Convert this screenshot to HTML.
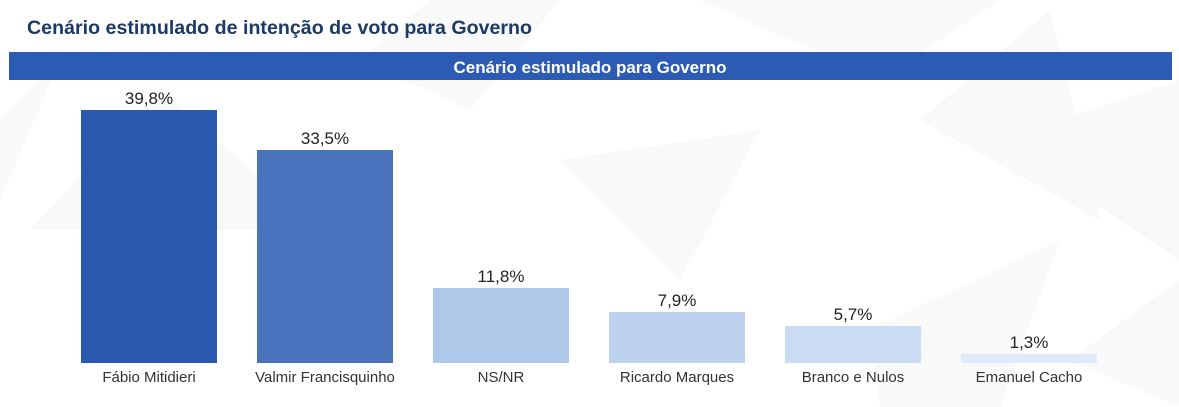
<!DOCTYPE html>
<html><head><meta charset="utf-8"><style>
body{margin:0;width:1179px;height:407px;overflow:hidden;background:#fff;font-family:"Liberation Sans",sans-serif;}
</style></head><body>
<svg width="1179" height="407" xmlns="http://www.w3.org/2000/svg" style="position:absolute;left:0;top:0">
<g fill="#f9f9f9">
<polygon points="0,120 60,60 0,200"/>
<polygon points="160,90 320,230 30,230"/>
<polygon points="360,60 430,0 560,0 470,110"/>
<polygon points="560,160 760,130 680,280"/>
<polygon points="700,0 1000,0 880,80"/>
<polygon points="920,120 1050,10 1100,220"/>
<polygon points="1000,140 1179,80 1179,260"/>
<polygon points="1070,360 1179,280 1179,407"/>
<polygon points="870,330 1060,240 1000,407 880,407"/>
</g>
<text x="27" y="34" font-size="19.6" font-weight="bold" fill="#1b3a66" textLength="505">Cenário estimulado de intenção de voto para Governo</text>
<rect x="9" y="52" width="1163" height="28" fill="#2c5bb3"/>
<text x="590" y="73" font-size="17" font-weight="bold" fill="#fff" text-anchor="middle">Cenário estimulado para Governo</text>
<g font-size="17" fill="#222" text-anchor="middle">
<rect x="81" y="110" width="136" height="253" fill="#2a59b0"/><text x="149" y="104">39,8%</text>
<rect x="257" y="150" width="136" height="213" fill="#4a73be"/><text x="325" y="144">33,5%</text>
<rect x="433" y="288" width="136" height="75" fill="#aec8ea"/><text x="501" y="282">11,8%</text>
<rect x="609" y="312" width="136" height="51" fill="#bcd2ee"/><text x="677" y="306">7,9%</text>
<rect x="785" y="326" width="136" height="37" fill="#c9dcf4"/><text x="853" y="320">5,7%</text>
<rect x="961" y="354" width="136" height="9" fill="#dfebfa"/><text x="1029" y="348">1,3%</text>
</g>
<g font-size="15" fill="#333" text-anchor="middle">
<text x="149" y="382">Fábio Mitidieri</text>
<text x="325" y="382">Valmir Francisquinho</text>
<text x="501" y="382">NS/NR</text>
<text x="677" y="382">Ricardo Marques</text>
<text x="853" y="382">Branco e Nulos</text>
<text x="1029" y="382">Emanuel Cacho</text>
</g>
</svg>
</body></html>
